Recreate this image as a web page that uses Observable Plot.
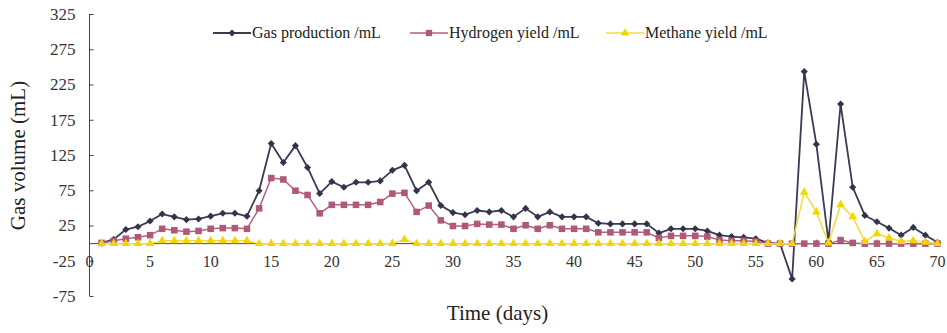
<!DOCTYPE html>
<html>
<head>
<meta charset="utf-8">
<script src="https://cdn.jsdelivr.net/npm/d3@7"></script>
<script src="https://cdn.jsdelivr.net/npm/@observablehq/plot@0.6"></script>
<style>
  html, body { margin: 0; padding: 0; background: #fff; }
  #wrap { position: relative; width: 947px; height: 333px; font-family: "Liberation Serif", "Times New Roman", serif; }
  #legend { position: absolute; top: 23px; left: 0; width: 947px; height: 24px; }
  .item { position: absolute; top: 0; display: flex; align-items: center; font-family: "Liberation Serif", "Times New Roman", serif; font-size: 16px; color: #222; white-space: nowrap; }
  .item svg { display: block; margin-right: 1px; }
</style>
</head>
<body>
<div id="wrap">
  <div id="chart"></div>
  <div id="legend"></div>
</div>
<script>
// ---- data ----
const days = d3.range(1, 71);
const gas = [1, 6, 20, 24, 32, 42, 38, 34, 35, 39,
             43, 43, 39, 75, 142, 115, 139, 108, 71, 88,
             80, 87, 87, 89, 104, 111, 75, 87, 54, 44,
             41, 47, 45, 47, 38, 50, 38, 45, 38, 38,
             38, 29, 28, 28, 28, 28, 15, 21, 21, 21,
             18, 12, 10, 9, 7, 1, 0, -50, 244, 141,
             3, 198, 80, 40, 31, 22, 12, 23, 12, 2];
const hydrogen = [1, 4, 7, 9, 12, 21, 19, 17, 18, 21,
                  22, 22, 21, 50, 93, 91, 75, 69, 43, 55,
                  55, 55, 55, 59, 71, 72, 45, 54, 33, 25,
                  25, 28, 27, 27, 21, 26, 21, 26, 21, 21,
                  21, 16, 16, 16, 16, 16, 8, 11, 11, 11,
                  10, 5, 4, 4, 3, 0, 0, 0, 0, 0,
                  0, 5, 1, 0, 0, 0, 0, 0, 0, 0];
const methane = [0, 0, 0, 0, 0, 4, 4, 4, 4, 4,
                 4, 4, 4, 0, 0, 0, 0, 0, 0, 0,
                 0, 0, 0, 0, 0, 6, 0, 0, 0, 0,
                 0, 0, 0, 0, 0, 0, 0, 0, 0, 0,
                 0, 0, 0, 0, 0, 0, 0, 0, 0, 0,
                 0, 0, 0, 0, 0, 0, 0, 0, 73, 45,
                 1, 55, 38, 3, 14, 8, 3, 4, 2, 0];
const seriesNames = ["Gas production /mL", "Hydrogen yield /mL", "Methane yield /mL"];
const seriesValues = [gas, hydrogen, methane];
const xTicks = [0, 5, 10, 15, 20, 25, 30, 35, 40, 45, 50, 55, 60, 65, 70];
const yTicks = [325, 275, 225, 175, 125, 75, 25, -25, -75];
const xLabel = "Time (days)";
const yLabel = "Gas volume (mL)";

// ---- styles ----
const styles = [
  {line: "#3a3a55", fill: "#33334d", symbol: "diamond2", r: 3.2, width: 1.8, lsize: 32},
  {line: "#b5607d", fill: "#b0587a", symbol: "square", r: 3.7, width: 1.5, lsize: 40},
  {line: "#f2dc3a", fill: "#f3d600", symbol: "triangle", r: 3.2, width: 1.5, lsize: 30}
];

const rows = seriesValues.map((vals, s) => days.map((d, i) => ({day: d, value: vals[i], s})));

// inward tick symbols
const tickUp = {draw(ctx) { ctx.moveTo(0, 0); ctx.lineTo(0, -4); }};
const tickRight = {draw(ctx) { ctx.moveTo(0, 0); ctx.lineTo(4, 0); }};

const marks = [
  Plot.ruleX([0], {stroke: "#444", strokeWidth: 1}),
  Plot.ruleY([0], {stroke: "#444", strokeWidth: 1}),
  Plot.dot(yTicks, {x: () => 0, y: d => d, symbol: tickRight, stroke: "#444", fill: "none", strokeWidth: 1}),
  Plot.dot(xTicks, {x: d => d, y: () => 0, symbol: tickUp, stroke: "#444", fill: "none", strokeWidth: 1}),
  Plot.text(yTicks, {x: () => 0, y: d => d, text: d => String(d), textAnchor: "end", dx: -14, fontSize: 17, fill: "#333"}),
  Plot.text(xTicks, {x: d => d, y: () => 0, text: d => String(d), dy: 18, fontSize: 16, fill: "#333"}),
  Plot.text([xLabel], {frameAnchor: "bottom", textAnchor: "middle", text: d => d, dy: 23, dx: -16, fontSize: 21, fill: "#222"}),
  Plot.text([yLabel], {frameAnchor: "left", textAnchor: "middle", text: d => d, rotate: -90, dx: -71, fontSize: 21, fill: "#222"})
];
rows.forEach((data, s) => {
  const st = styles[s];
  marks.push(Plot.line(data, {x: "day", y: "value", stroke: st.line, strokeWidth: st.width}));
  marks.push(Plot.dot(data, {x: "day", y: "value", symbol: st.symbol, r: st.r, fill: st.fill, stroke: "none"}));
});

const chart = Plot.plot({
  width: 947,
  height: 333,
  marginLeft: 89,
  marginRight: 10,
  marginTop: 14,
  marginBottom: 37,
  x: {domain: [0, 70], axis: null},
  y: {domain: [-75, 325], axis: null},
  style: {fontFamily: '"Liberation Serif", "Times New Roman", serif', background: "#fff", overflow: "visible"},
  marks
});
document.getElementById("chart").appendChild(chart);

// ---- legend ----
const legendPos = [213, 410, 606];
const symbolTypes = {diamond2: d3.symbolDiamond2, square: d3.symbolSquare, triangle: d3.symbolTriangle};
const legend = document.getElementById("legend");
seriesNames.forEach((name, s) => {
  const st = styles[s];
  const path = d3.symbol(symbolTypes[st.symbol], st.lsize)();
  const item = document.createElement("div");
  item.className = "item";
  item.style.left = legendPos[s] + "px";
  item.innerHTML = `<svg width="38" height="20"><line x1="0" x2="38" y1="10" y2="10" stroke="${st.line}" stroke-width="${st.width}"/><path transform="translate(19,10)" d="${path}" fill="${st.fill}"/></svg><span>${name}</span>`;
  legend.appendChild(item);
});
</script>
</body>
</html>
